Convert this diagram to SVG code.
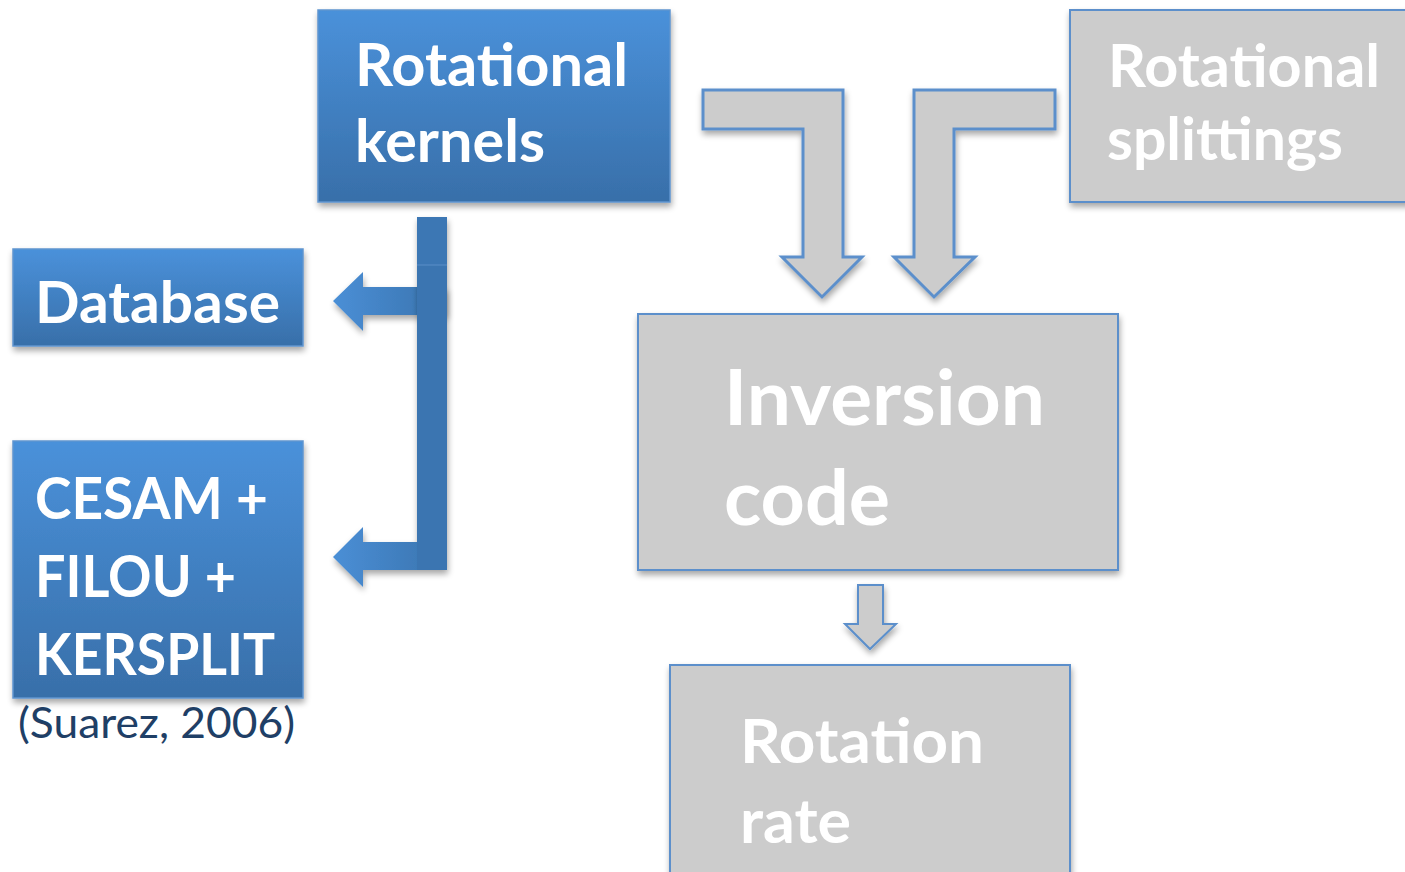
<svg xmlns="http://www.w3.org/2000/svg" width="1405" height="872" viewBox="0 0 1405 872">
<defs>
<linearGradient id="gBlue" x1="0" y1="0" x2="0" y2="1">
<stop offset="0" stop-color="#4a91da"/>
<stop offset="1" stop-color="#386fa9"/>
</linearGradient>
<linearGradient id="gArrow" x1="0" y1="0" x2="1" y2="0">
<stop offset="0" stop-color="#4a8fd6"/>
<stop offset="1" stop-color="#3a73ae"/>
</linearGradient>
<filter id="sh" x="-10%" y="-10%" width="125%" height="130%">
<feGaussianBlur in="SourceAlpha" stdDeviation="3"/>
<feOffset dx="1" dy="4" result="b"/>
<feComponentTransfer><feFuncA type="linear" slope="0.35"/></feComponentTransfer>
<feMerge><feMergeNode/><feMergeNode in="SourceGraphic"/></feMerge>
</filter>
</defs>
<style>
.bb{fill:url(#gBlue);stroke:#5f95cf;stroke-width:1.5;filter:url(#sh)}
.gb{fill:#cccccc;stroke:#5b8fcb;stroke-width:2;filter:url(#sh)}
.ga{fill:#cccccc;stroke:#5b8fcb;stroke-width:3;stroke-linejoin:miter;filter:url(#sh)}
.ba{fill:url(#gArrow);stroke:none;filter:url(#sh)}
.t{font-family:Lato,"Open Sans",sans-serif;font-weight:bold;fill:#ffffff}
.c{font-family:Lato,"Open Sans",sans-serif;fill:#1f3f66}
</style>
<g id="connectors">
<path class="ga" d="M703,90 L843,90 L843,257 L862,257 L822,297 L782,257 L803,257 L803,129 L703,129 Z"/>
<path class="ga" d="M1055,90 L914,90 L914,257 L894,257 L934,297 L975,257 L954,257 L954,129 L1055,129 Z"/>
<path class="ga" d="M858,585 L883,585 L883,624 L896,624 L870,649 L845,624 L858,624 Z" style="stroke-width:2"/>
<path class="ba" d="M447,287 L363,287 L363,272 L333,301 L363,331 L363,315 L447,315 Z"/>
<path class="ba" d="M417,217 L447,217 L447,570 L363,570 L363,587 L333,557 L363,527 L363,542 L417,542 Z"/>
<rect x="417" y="217" width="30" height="48" fill="#3c77b4"/>
<rect x="417" y="265" width="30" height="305" fill="#3b75b1"/>
<line x1="417" y1="265" x2="447" y2="265" stroke="#5a8fc8" stroke-width="1"/>
</g>
<g id="rotational-kernels">
<rect class="bb" x="318" y="10" width="352" height="192"/>
<text class="t" x="355" y="86" font-size="60" textLength="273" lengthAdjust="spacingAndGlyphs">Rotational</text>
<text class="t" x="355" y="162" font-size="60" textLength="190" lengthAdjust="spacingAndGlyphs">kernels</text>
</g>
<g id="database">
<rect class="bb" x="13" y="249" width="290" height="97"/>
<text class="t" x="35" y="323" font-size="58" textLength="245" lengthAdjust="spacingAndGlyphs">Database</text>
</g>
<g id="cesam">
<rect class="bb" x="13" y="441" width="290" height="257"/>
<text class="t" x="35" y="519" font-size="58" textLength="233" lengthAdjust="spacingAndGlyphs">CESAM +</text>
<text class="t" x="35" y="597" font-size="58" textLength="201" lengthAdjust="spacingAndGlyphs">FILOU +</text>
<text class="t" x="35" y="675" font-size="58" textLength="240" lengthAdjust="spacingAndGlyphs">KERSPLIT</text>
<text class="c" x="18" y="738" font-size="42" textLength="277" lengthAdjust="spacingAndGlyphs">(Suarez, 2006)</text>
</g>
<g id="rotational-splittings">
<rect class="gb" x="1070" y="10" width="345" height="192"/>
<text class="t" x="1108" y="87" font-size="60" textLength="272" lengthAdjust="spacingAndGlyphs">Rotational</text>
<text class="t" x="1107" y="160" font-size="60" textLength="236" lengthAdjust="spacingAndGlyphs">splittings</text>
</g>
<g id="inversion-code">
<rect class="gb" x="638" y="314" width="480" height="256"/>
<text class="t" x="724" y="425" font-size="76" textLength="321" lengthAdjust="spacingAndGlyphs">Inversion</text>
<text class="t" x="724" y="525" font-size="76" textLength="166" lengthAdjust="spacingAndGlyphs">code</text>
</g>
<g id="rotation-rate">
<rect class="gb" x="670" y="665" width="400" height="230"/>
<text class="t" x="740" y="763" font-size="62" textLength="244" lengthAdjust="spacingAndGlyphs">Rotation</text>
<text class="t" x="740" y="843" font-size="62" textLength="111" lengthAdjust="spacingAndGlyphs">rate</text>
</g>
</svg>
